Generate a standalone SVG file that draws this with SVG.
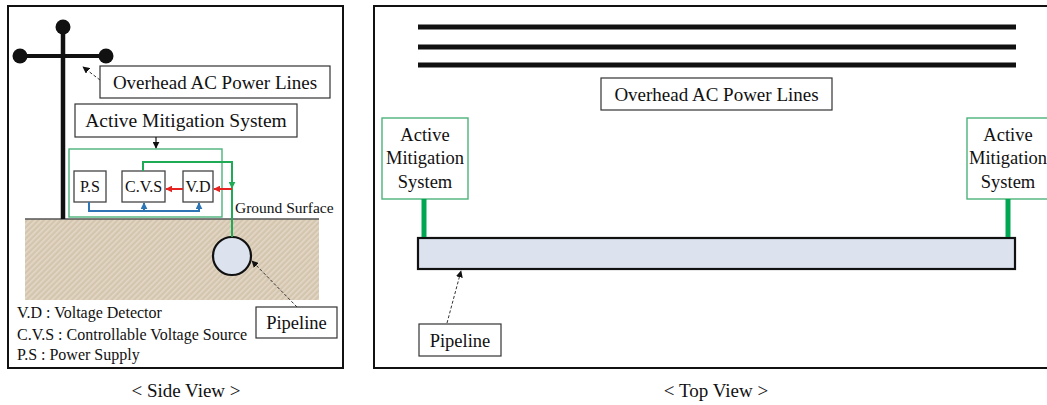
<svg xmlns="http://www.w3.org/2000/svg" width="1047" height="405" viewBox="0 0 1047 405">
  <style>
    text { font-family: "Liberation Serif", "Times New Roman", serif; fill: #111; }
    .panel { fill: #fff; stroke: #111; stroke-width: 2; }
    .label { fill: #fff; stroke: #333; stroke-width: 1.2; }
    .ams { fill: #fff; stroke: #4cb27a; stroke-width: 1.4; }
    .unit { fill: #fff; stroke: #444; stroke-width: 1.3; }
    .wire { stroke: #111; stroke-width: 5; fill: none; }
    .feed { stroke: #00a651; stroke-width: 5; fill: none; }
    .sig { stroke: #1faa55; stroke-width: 2; fill: none; }
    .red { stroke: #e52421; stroke-width: 2; fill: none; }
    .blue { stroke: #2e75b6; stroke-width: 2; fill: none; }
    .lead { stroke: #333; stroke-width: 1; stroke-dasharray: 3 2; fill: none; }
    .pipe { fill: #dce3ef; stroke: #111; stroke-width: 2.2; }
    .c { text-anchor: middle; }
  </style>
  <defs>
    <pattern id="soil" width="4" height="4" patternUnits="userSpaceOnUse" patternTransform="rotate(-45)">
      <rect width="4" height="4" fill="#d4c5ae"/>
      <rect width="4" height="1.6" fill="#e3d8c7"/>
    </pattern>
    <marker id="ahBlack" viewBox="0 0 10 10" refX="9" refY="5" markerWidth="7" markerHeight="7" markerUnits="userSpaceOnUse" orient="auto">
      <path d="M0,0 L10,5 L0,10 z" fill="#111"/>
    </marker>
    <marker id="ahRed" viewBox="0 0 10 10" refX="9" refY="5" markerWidth="7" markerHeight="7" markerUnits="userSpaceOnUse" orient="auto">
      <path d="M0,0 L10,5 L0,10 z" fill="#e52421"/>
    </marker>
    <marker id="ahBlue" viewBox="0 0 10 10" refX="9" refY="5" markerWidth="7" markerHeight="7" markerUnits="userSpaceOnUse" orient="auto">
      <path d="M0,0 L10,5 L0,10 z" fill="#2e75b6"/>
    </marker>
    <marker id="ahGreen" viewBox="0 0 10 10" refX="9" refY="5" markerWidth="7" markerHeight="7" markerUnits="userSpaceOnUse" orient="auto">
      <path d="M0,0 L10,5 L0,10 z" fill="#1faa55"/>
    </marker>
  </defs>

  <rect width="1047" height="405" fill="#fff"/>

  <!-- ===== Side view ===== -->
  <g id="side-panel">
    <rect class="panel" x="8" y="6" width="335" height="362"/>
    <text class="c" x="186" y="397" font-size="19">&lt; Side View &gt;</text>
  </g>

  <g id="ground">
    <rect x="25" y="219" width="294" height="81" fill="url(#soil)"/>
    <line x1="25" y1="219" x2="319" y2="219" stroke="#555" stroke-width="1.5"/>
  </g>

  <g id="pole">
    <line x1="63" y1="27" x2="63" y2="219" stroke="#111" stroke-width="4.5"/>
    <line x1="20" y1="56" x2="106" y2="56" stroke="#111" stroke-width="4"/>
    <circle cx="63" cy="27" r="7.5" fill="#111"/>
    <circle cx="20" cy="56" r="7.5" fill="#111"/>
    <circle cx="106" cy="56" r="7.5" fill="#111"/>
  </g>

  <g id="side-power-label">
    <rect class="label" x="100" y="66" width="230" height="32"/>
    <text class="c" x="215" y="89" font-size="19">Overhead AC Power Lines</text>
  </g>

  <g id="side-ams-label">
    <rect class="label" x="75" y="104" width="222" height="33"/>
    <text class="c" x="186" y="127" font-size="19.5">Active Mitigation System</text>
  </g>

  <g id="side-ams">
    <rect class="ams" x="69" y="149" width="153" height="68"/>
  </g>

  <g id="ps">
    <rect class="unit" x="74" y="171" width="32" height="31"/>
    <text class="c" x="90" y="192" font-size="16">P.S</text>
  </g>
  <g id="cvs">
    <rect class="unit" x="122" y="171" width="43" height="31"/>
    <text class="c" x="143.5" y="192" font-size="16">C.V.S</text>
  </g>
  <g id="vd">
    <rect class="unit" x="183" y="171" width="30" height="31"/>
    <text class="c" x="198" y="192" font-size="16">V.D</text>
  </g>

  <g id="side-pipe">
    <circle class="pipe" cx="232" cy="256" r="19"/>
  </g>

  <g id="ground-label">
    <text x="235" y="213" font-size="15.5">Ground Surface</text>
  </g>

  <g id="side-pipe-label">
    <rect class="label" x="256" y="307" width="81" height="31"/>
    <text class="c" x="296.5" y="329" font-size="18.5">Pipeline</text>
  </g>

  <g id="legend">
    <text x="17" y="318" font-size="16">V.D : Voltage Detector</text>
    <text x="17" y="340" font-size="16">C.V.S : Controllable Voltage Source</text>
    <text x="17" y="360" font-size="16">P.S : Power Supply</text>
  </g>

  <!-- ===== Top view ===== -->
  <g id="top-panel">
    <rect class="panel" x="374" y="6" width="700" height="362"/>
    <text class="c" x="716" y="397" font-size="19">&lt; Top View &gt;</text>
  </g>

  <g id="top-lines">
    <line class="wire" x1="418" y1="27" x2="1016" y2="27"/>
    <line class="wire" x1="418" y1="47" x2="1016" y2="47"/>
    <line class="wire" x1="418" y1="65" x2="1016" y2="65"/>
  </g>

  <g id="top-power-label">
    <rect class="label" x="601" y="78" width="231" height="32"/>
    <text class="c" x="716.5" y="101" font-size="19">Overhead AC Power Lines</text>
  </g>

  <g id="top-ams-left">
    <rect class="ams" x="382" y="118" width="86" height="81"/>
    <text class="c" x="425" y="141" font-size="18.5">Active</text>
    <text class="c" x="425" y="164" font-size="18.5">Mitigation</text>
    <text class="c" x="425" y="188" font-size="18.5">System</text>
  </g>

  <g id="top-ams-right">
    <rect class="ams" x="967" y="118" width="90" height="81"/>
    <text class="c" x="1008" y="141" font-size="18.5">Active</text>
    <text class="c" x="1008" y="164" font-size="18.5">Mitigation</text>
    <text class="c" x="1008" y="188" font-size="18.5">System</text>
  </g>

  <g id="top-pipe">
    <rect class="pipe" x="418" y="238" width="597" height="31"/>
  </g>

  <g id="top-pipe-label">
    <rect class="label" x="419" y="324" width="82" height="32"/>
    <text class="c" x="460" y="347" font-size="18.5">Pipeline</text>
  </g>

  <!-- ===== Connectors ===== -->
  <g id="connectors">
    <!-- callout leaders -->
    <line class="lead" x1="100" y1="80" x2="83" y2="67" marker-end="url(#ahBlack)"/>
    <line x1="156" y1="137" x2="156" y2="148" stroke="#111" stroke-width="1.2" marker-end="url(#ahBlack)"/>
    <line class="lead" x1="297" y1="307" x2="252" y2="261" marker-end="url(#ahBlack)"/>
    <line class="lead" x1="447" y1="323" x2="461" y2="271" marker-end="url(#ahBlack)"/>

    <!-- pipe sensing / drive line -->
    <path class="sig" d="M143,171 V162 H232 V188" marker-end="url(#ahGreen)"/>
    <line class="sig" x1="232" y1="186" x2="232" y2="237"/>

    <!-- signal path: pipe -> V.D -> C.V.S -->
    <line class="red" x1="232" y1="189" x2="214" y2="189" marker-end="url(#ahRed)"/>
    <line class="red" x1="183" y1="189" x2="166" y2="189" marker-end="url(#ahRed)"/>

    <!-- power distribution from P.S -->
    <path class="blue" d="M89,202 V211 H199 V203" marker-end="url(#ahBlue)"/>
    <line class="blue" x1="144" y1="211" x2="144" y2="203" marker-end="url(#ahBlue)"/>

    <!-- AMS ties to the pipeline -->
    <line class="feed" x1="424" y1="199" x2="424" y2="237"/>
    <line class="feed" x1="1008" y1="199" x2="1008" y2="237"/>
  </g>
</svg>
